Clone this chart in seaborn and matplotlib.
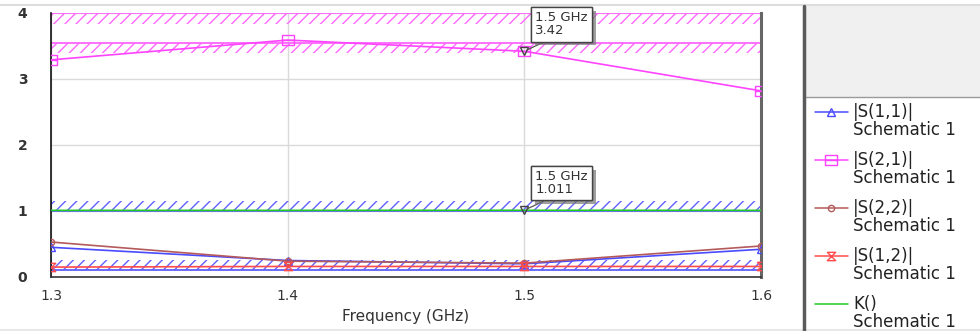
import numpy as np
import pandas as pd
import matplotlib
matplotlib.use("Agg")
import matplotlib.pyplot as plt
import seaborn as sns
from matplotlib.path import Path
from matplotlib.lines import Line2D
from matplotlib.patches import Rectangle
import matplotlib.patheffects as pe

# ---------------- data ----------------
freq = [1.3, 1.4, 1.5, 1.6]
s11 = [0.45, 0.25, 0.20, 0.42]
s21 = [3.29, 3.59, 3.42, 2.82]
s22 = [0.53, 0.24, 0.21, 0.47]
s12 = [0.15, 0.16, 0.16, 0.16]
k_factor = [1.01, 1.01, 1.011, 1.01]

series_names = ["|S(1,1)|", "|S(2,1)|", "|S(2,2)|", "|S(1,2)|", "K()"]
source_label = "Schematic 1"

# spec (goal) bands
spec_low = [3.84, 3.40, 1.00, 0.10]
spec_high = [4.00, 3.55, 1.15, 0.26]
spec_line = [4.00, 3.55, 1.00, 0.10]
spec_kind = ["mag", "mag", "blue", "blue"]

# marker readouts
marker_freq = [1.5, 1.5]
marker_vals = [3.42, 1.011]
marker_labels = ["1.5 GHz\n3.42", "1.5 GHz\n1.011"]

x_ticks = [1.3, 1.4, 1.5, 1.6]
y_ticks = [0, 1, 2, 3, 4]
x_label = "Frequency (GHz)"

# ---------------- style ----------------
sns.set_style("white")
plt.rcParams["font.family"] = ["DejaVu Sans"]
plt.rcParams["hatch.linewidth"] = 1.0

C_BLUE = "#4a4aff"
C_MAG = "#ff44ff"
C_BROWN = "#b45a5a"
C_RED = "#ff4a4a"
C_GREEN = "#22cc22"
spec_colors = {"mag": "#ff66ff", "blue": "#6060ff"}

# custom markers
box_line = Path([(-1, -0.75), (1, -0.75), (1, 0.75), (-1, 0.75), (-1, -0.75), (-1, 0), (1, 0)],
                [Path.MOVETO, Path.LINETO, Path.LINETO, Path.LINETO, Path.CLOSEPOLY, Path.MOVETO, Path.LINETO])
hourglass = Path([(-1, 1), (1, 1), (-1, -1), (1, -1), (-1, 1)],
                 [Path.MOVETO, Path.LINETO, Path.LINETO, Path.LINETO, Path.LINETO])

W, H = 980, 331
fig = plt.figure(figsize=(W / 100, H / 100), dpi=100)
fig.patch.set_facecolor("white")
ax_l, ax_r, ax_t, ax_b = 51, 761, 13, 277
ax = fig.add_axes([ax_l / W, 1 - ax_b / H, (ax_r - ax_l) / W, (ax_b - ax_t) / H])

ax.set_xlim(freq[0], freq[-1])
ax.set_ylim(0, 4)

# grid
ax.set_xticks(x_ticks)
ax.set_yticks(y_ticks)
ax.grid(True, color="#dadada", linewidth=1.0)
ax.set_axisbelow(True)

# spec bands
for lo, hi, ln, kind in zip(spec_low, spec_high, spec_line, spec_kind):
    c = spec_colors[kind]
    ax.fill_between([freq[0], freq[-1]], [lo, lo], [hi, hi], facecolor="none",
                    edgecolor=c, hatch="///", linewidth=0, zorder=2)
    ax.axhline(ln, color=c, linewidth=1.3, zorder=2.5)
    ax.plot([freq[0], freq[0]], [lo, hi], color=c, linewidth=1.3, zorder=2.5)

# traces
traces = [
    (s11, C_BLUE, "^", 6),
    (s21, C_MAG, box_line, 9),
    (s22, C_BROWN, "o", 4.5),
    (s12, C_RED, hourglass, 6),
    (k_factor, C_GREEN, None, 0),
]
for vals, c, m, ms in traces:
    kw = dict(x=freq, y=vals, ax=ax, color=c, linewidth=1.2, legend=False, zorder=4)
    if m is not None:
        kw.update(marker=m, markersize=ms, markerfacecolor="none",
                  markeredgecolor=c, markeredgewidth=1.0)
    sns.lineplot(**kw)

# marker readouts
ax.plot(marker_freq, marker_vals, linestyle="none", marker="v", markersize=6,
        markerfacecolor="none", markeredgecolor="#444444", markeredgewidth=1.0, zorder=6)
for fx, fv, txt in zip(marker_freq, marker_vals, marker_labels):
    ann = ax.annotate(txt, xy=(fx, fv), xytext=(11, 14), textcoords="offset pixels",
                      ha="left", va="bottom", fontsize=9.5, color="#333333", linespacing=1.0,
                      bbox=dict(boxstyle="square,pad=0.32", fc="white", ec="#444444", lw=1.0),
                      arrowprops=dict(arrowstyle="-", color="#555555", lw=0.9,
                                      shrinkA=0, shrinkB=2, relpos=(0.35, 0)),
                      zorder=10)
    ann.get_bbox_patch().set_path_effects(
        [pe.withSimplePatchShadow(offset=(2.5, -2.5), shadow_rgbFace="#777777", alpha=0.7), pe.Normal()])

# spines and ticks
ax.spines["top"].set_visible(False)
ax.spines["left"].set_color("#111111")
ax.spines["left"].set_linewidth(1.2)
ax.spines["bottom"].set_color("#333333")
ax.spines["bottom"].set_linewidth(1.2)
ax.spines["right"].set_color("#666666")
ax.spines["right"].set_linewidth(2.2)
ax.tick_params(axis="both", length=0, labelcolor="#333333", labelsize=10)
ax.tick_params(axis="y", pad=17)
ax.tick_params(axis="x", pad=9)
ax.set_xticklabels([f"{v:.1f}" for v in x_ticks])
ax.set_yticklabels([str(v) for v in y_ticks], fontweight="bold")
ax.set_xlabel(x_label, fontsize=11, color="#333333", labelpad=4)

# frame decorations
fig.add_artist(Line2D([0, 1], [1 - 5 / H, 1 - 5 / H], color="#dddddd", linewidth=1.5, transform=fig.transFigure))
fig.add_artist(Line2D([0, 1], [1 - 330 / H, 1 - 330 / H], color="#e8e8e8", linewidth=1.5, transform=fig.transFigure))
fig.add_artist(Rectangle((806 / W, 1 - 97 / H), (W - 806) / W, 91 / H, transform=fig.transFigure,
                         facecolor="#f0f0f0", edgecolor="none"))
fig.add_artist(Line2D([806 / W, 1], [1 - 97 / H, 1 - 97 / H], color="#9a9a9a", linewidth=1.0, transform=fig.transFigure))
fig.add_artist(Line2D([804 / W, 804 / W], [0, 1 - 6 / H], color="#5a5a5a", linewidth=2.5, transform=fig.transFigure))

# legend (manual, two-line labels)
for i, (name, (vals, c, m, ms)) in enumerate(zip(series_names, traces)):
    y1 = 112 + 48 * i
    yf = 1 - y1 / H
    h = Line2D([815 / W, 831 / W, 848 / W], [yf, yf, yf], transform=fig.transFigure,
               color=c, linewidth=1.1)
    if m is not None:
        h.set_marker(m)
        h.set_markersize(ms)
        h.set_markevery([1])
        h.set_markerfacecolor("none")
        h.set_markeredgecolor(c)
    fig.add_artist(h)
    fig.text(853 / W, yf, name, ha="left", va="center", fontsize=12, color="#222222")
    fig.text(853 / W, 1 - (y1 + 18) / H, source_label, ha="left", va="center", fontsize=12, color="#222222")

fig.savefig("out.png", dpi=100)
